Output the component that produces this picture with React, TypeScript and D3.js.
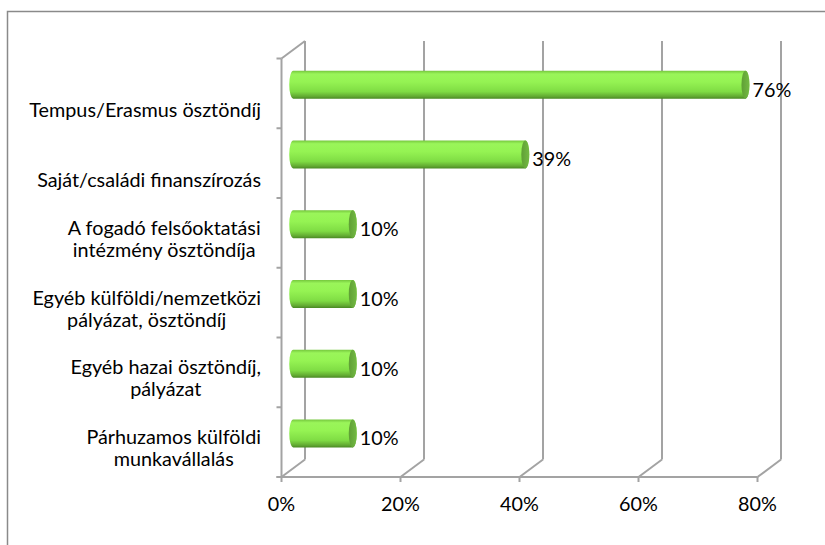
import React from "react";
import * as d3 from "d3";

const categories = [
  "Tempus/Erasmus ösztöndíj",
  "Saját/családi finanszírozás",
  "A fogadó felsőoktatási\nintézmény ösztöndíja",
  "Egyéb külföldi/nemzetközi\npályázat, ösztöndíj",
  "Egyéb hazai ösztöndíj,\npályázat",
  "Párhuzamos külföldi\nmunkavállalás",
];
const values = [0.76, 0.39, 0.1, 0.1, 0.1, 0.1];
const tickValues = [0, 0.2, 0.4, 0.6, 0.8];

const W = 825;
const H = 545;
const FONT = "Lato, 'Open Sans', sans-serif";
const FS = 19.8;
const GRID = "#a3a3a3";

let ctx: CanvasRenderingContext2D | null = null;
function measure(s: string): number {
  if (!ctx) {
    const c = document.createElement("canvas");
    ctx = c.getContext("2d");
  }
  if (!ctx) return s.length * FS * 0.48;
  ctx.font = `${FS}px Lato`;
  return ctx.measureText(s).width;
}

export default function App() {
  const x = d3.scaleLinear().domain([0, 0.8]).range([281.5, 757.5]);
  const y = d3.scaleBand<string>().domain(categories).range([58.5, 477]);
  const dx = 23.5;
  const dy = -17.5;
  const top = y.range()[0];
  const bottom = y.range()[1];
  const bw = y.bandwidth();
  const barH = 28;
  const rx = 4;
  const fmt = d3.format(".0%");
  const labelRight = 261;

  return (
    <svg
      width={W}
      height={H}
      style={{ position: "absolute", left: 0, top: 0, overflow: "hidden" }}
    >
      <defs>
        <linearGradient id="cyl" x1="0" y1="0" x2="0" y2="1">
          <stop offset="0" stopColor="#74c63c" />
          <stop offset="0.12" stopColor="#9af55a" />
          <stop offset="0.4" stopColor="#95f353" />
          <stop offset="0.75" stopColor="#7fdc44" />
          <stop offset="0.92" stopColor="#62aa32" />
          <stop offset="1" stopColor="#4a8a24" />
        </linearGradient>
        <linearGradient id="face" x1="0" y1="0" x2="1" y2="0">
          <stop offset="0" stopColor="#5f9f35" />
          <stop offset="1" stopColor="#74ba44" />
        </linearGradient>
      </defs>
      <rect x={0} y={0} width={W} height={H} fill="#ffffff" />
      <rect
        x={7.5}
        y={11.5}
        width={900}
        height={700}
        fill="none"
        stroke="#8a8a8a"
        strokeWidth={1.5}
      />

      {/* back wall verticals */}
      {tickValues.map((t) => (
        <line
          key={"bv" + t}
          x1={x(t) + dx}
          x2={x(t) + dx}
          y1={top + dy}
          y2={bottom + dy}
          stroke={GRID}
          strokeWidth={2}
        />
      ))}
      {/* floor diagonals */}
      {tickValues.map((t) => (
        <line
          key={"fd" + t}
          x1={x(t)}
          x2={x(t) + dx}
          y1={bottom}
          y2={bottom + dy}
          stroke={GRID}
          strokeWidth={2}
        />
      ))}
      {/* left wall */}
      <line x1={x(0)} x2={x(0)} y1={top} y2={bottom} stroke={GRID} strokeWidth={2} />
      <line x1={x(0)} x2={x(0) + dx} y1={top} y2={top + dy} stroke={GRID} strokeWidth={2} />
      {/* front floor edge */}
      <line x1={x(0) - 5} x2={x(0.8)} y1={bottom} y2={bottom} stroke={GRID} strokeWidth={2} />
      {/* ticks */}
      {tickValues.map((t) => (
        <line
          key={"tk" + t}
          x1={x(t)}
          x2={x(t)}
          y1={bottom}
          y2={bottom + 5}
          stroke={GRID}
          strokeWidth={2}
        />
      ))}
      {d3.range(categories.length + 1).map((i) => (
        <line
          key={"ct" + i}
          x1={x(0) - 5}
          x2={x(0)}
          y1={top + i * bw}
          y2={top + i * bw}
          stroke={GRID}
          strokeWidth={2}
        />
      ))}

      {/* bars */}
      {categories.map((c, i) => {
        const cy = (y(c) as number) + bw / 2 + dy / 2;
        const x0 = x(0) + dx / 2;
        const x1 = x(values[i]) + dx / 2;
        const t = cy - barH / 2;
        const b = cy + barH / 2;
        const ry = barH / 2;
        const d = `M${x0},${t} L${x1},${t} A${rx},${ry} 0 0 1 ${x1},${b} L${x0},${b} A${rx},${ry} 0 0 1 ${x0},${t} Z`;
        return (
          <g key={"bar" + i}>
            <path d={d} fill="url(#cyl)" />
            <ellipse cx={x1} cy={cy} rx={rx} ry={ry} fill="url(#face)" />
            <text
              x={x1 + rx + 3}
              y={cy + 5 + FS * 0.35}
              fontFamily={FONT}
              fontSize={FS}
              fill="#000"
            >
              {fmt(values[i])}
            </text>
          </g>
        );
      })}

      {/* category labels */}
      {categories.map((c) => {
        const lines = c.split("\n");
        const n = lines.length;
        const cMid = (y(c) as number) + bw / 2;
        const maxW = Math.max(...lines.map(measure));
        const cx = labelRight - maxW / 2;
        return (
          <text
            key={"lab" + c}
            textAnchor="middle"
            fontFamily={FONT}
            fontSize={FS}
            fill="#000"
          >
            {lines.map((ln, j) => (
              <tspan
                key={j}
                x={cx}
                y={cMid + 17 - (n - 1 - j) * 22 + FS * 0.35}
              >
                {ln}
              </tspan>
            ))}
          </text>
        );
      })}

      {/* tick labels */}
      {tickValues.map((t) => (
        <text
          key={"tl" + t}
          x={x(t)}
          y={504 + FS * 0.35}
          textAnchor="middle"
          fontFamily={FONT}
          fontSize={FS}
          fill="#000"
        >
          {fmt(t)}
        </text>
      ))}
    </svg>
  );
}
